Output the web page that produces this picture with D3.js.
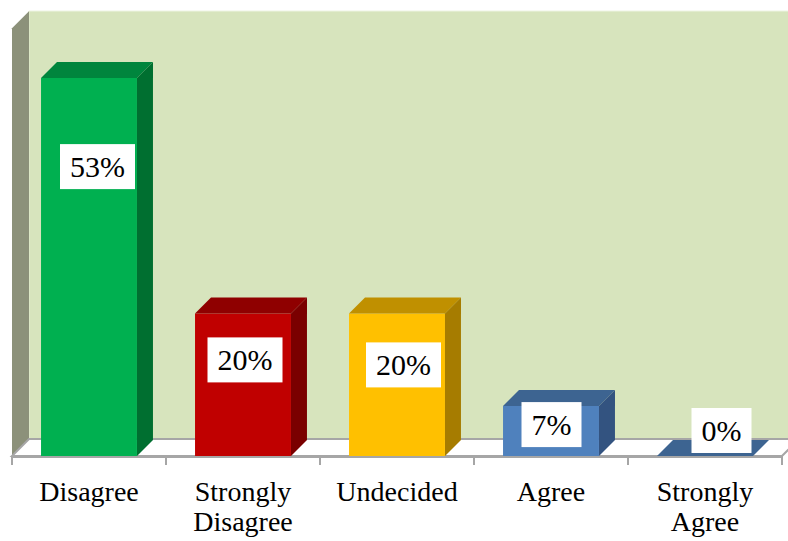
<!DOCTYPE html>
<html>
<head>
<meta charset="UTF-8">
<title>3D bar chart</title>
<script src="https://cdn.jsdelivr.net/npm/d3@7"></script>
<style>
    body { margin: 0; background: #fff; }
    svg text { font-family: 'Liberation Serif', 'Times New Roman', serif; }
</style>
</head>
<body>
<div class="app"></div>
<script>
    // data
    var categories = ['Disagree', 'Strongly\nDisagree', 'Undecided', 'Agree', 'Strongly\nAgree'];
    var values = [53, 20, 20, 7, 0];
    var yTicks = [0, 10, 20, 30, 40, 50, 60];

    // colours per bar: front, top, side
    var colors = [
        ['#00b050', '#00853d', '#006f30'],
        ['#c00000', '#8f0000', '#7a0000'],
        ['#ffc000', '#c09000', '#a67c00'],
        ['#4f81bd', '#3d6491', '#335380'],
        ['#4f81bd', '#3d6491', '#335380']
    ];
    // manual nudges of the value labels (box centre vs. bar top centre)
    var labelNudge = [[8.5, 88.5], [2, 46.5], [6.5, 51.5], [0.5, 18.5], [16.5, -25.5]];

    var serif = "'Liberation Serif', 'Times New Roman', serif";
    var width = 788, height = 541;
    var svg = d3.select('.app').append('svg')
        .attr('width', width).attr('height', height);

    var x = d3.scaleBand().domain(categories).range([12, 782]);
    var y = d3.scaleLinear().domain([0, d3.max(yTicks)]).range([456, 28.2]);
    var wd = 17;   // wall depth
    var bd = 16;   // bar depth
    var barW = x.bandwidth() * 0.623;

    function poly(pts) { return 'M' + pts.map(function (p) { return p.join(','); }).join('L') + 'Z'; }

    var xLeft = x.range()[0], xRight = x.range()[1];
    var yTop = y(d3.max(yTicks)), yBase = y(0);

    // back wall
    svg.append('path')
        .attr('d', poly([[xLeft + wd, yTop - wd], [xRight + wd + 20, yTop - wd], [xRight + wd + 20, yBase - wd], [xLeft + wd, yBase - wd]]))
        .attr('fill', '#d7e4bd').attr('stroke', '#e3ecd0').attr('stroke-width', 1);
    // side wall
    svg.append('path')
        .attr('d', poly([[xLeft, yTop], [xLeft + wd, yTop - wd], [xLeft + wd, yBase - wd], [xLeft, yBase]]))
        .attr('fill', '#8c917a');
    // floor
    svg.append('path')
        .attr('d', poly([[xLeft, yBase], [xLeft + wd, yBase - wd], [xRight + wd, yBase - wd], [xRight, yBase]]))
        .attr('fill', '#fff').attr('stroke', '#a6a6a6').attr('stroke-width', 2);
    svg.append('line')
        .attr('x1', xLeft).attr('x2', xRight).attr('y1', yBase + 1).attr('y2', yBase + 1)
        .attr('stroke', '#a6a6a6').attr('stroke-width', 2);

    // ticks on the front edge
    var tickXs = categories.map(function (c) { return x(c); }).concat([xRight]);
    svg.selectAll('.tick').data(tickXs).enter().append('line')
        .attr('x1', function (d) { return d; }).attr('x2', function (d) { return d; })
        .attr('y1', yBase).attr('y2', yBase + 9)
        .attr('stroke', '#a6a6a6').attr('stroke-width', 2);

    // bars
    var bars = svg.selectAll('.bar').data(values).enter().append('g').attr('class', 'bar');
    bars.each(function (v, i) {
        var g = d3.select(this);
        var cx = x(categories[i]) + x.bandwidth() / 2;
        var l = cx - barW / 2, r = cx + barW / 2, t = y(v);
        g.append('path').attr('d', poly([[l, t], [r, t], [r, yBase], [l, yBase]])).attr('fill', colors[i][0]);
        g.append('path').attr('d', poly([[l, t], [l + bd, t - bd], [r + bd, t - bd], [r, t]])).attr('fill', colors[i][1]);
        g.append('path').attr('d', poly([[r, t], [r + bd, t - bd], [r + bd, yBase - bd], [r, yBase]])).attr('fill', colors[i][2]);
    });

    // value labels
    bars.each(function (v, i) {
        var g = d3.select(this);
        var cx = x(categories[i]) + x.bandwidth() / 2 + labelNudge[i][0];
        var cy = y(v) + labelNudge[i][1];
        var rect = g.append('rect').attr('fill', '#fff');
        var txt = g.append('text')
            .style('font-family', serif).style('font-size', '30px').attr('fill', '#000')
            .attr('x', cx).attr('y', cy + 10.5)
            .attr('text-anchor', 'middle')
            .text(v + '%');
        var w = txt.node().getComputedTextLength() + 20;
        rect.attr('x', cx - w / 2).attr('y', cy - 22.5).attr('width', w).attr('height', 45);
    });

    // category labels
    svg.selectAll('.cat').data(categories).enter().append('text')
        .attr('class', 'cat')
        .style('font-family', serif).style('font-size', '28px').attr('fill', '#000')
        .attr('text-anchor', 'middle')
        .attr('transform', function (d) { return 'translate(' + (x(d) + x.bandwidth() / 2) + ',501)'; })
        .selectAll('tspan').data(function (d) { return d.split('\n'); }).enter().append('tspan')
        .attr('x', 0).attr('dy', function (d, i) { return i ? 30 : 0; })
        .text(function (d) { return d; });
</script>
</body>
</html>
